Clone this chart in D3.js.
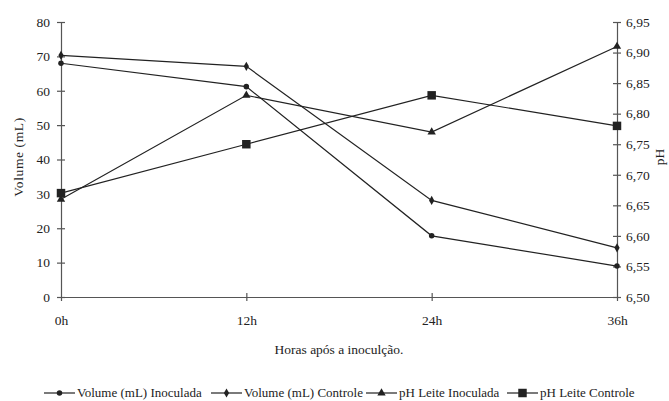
<!DOCTYPE html>
<html>
<head>
<meta charset="utf-8">
<script src="https://cdn.jsdelivr.net/npm/d3@7"></script>
<style>
  body { margin: 0; background: #fff; }
  svg text { font-family: "Liberation Serif", "Times New Roman", serif; fill: #222; }
</style>
</head>
<body>
<div id="chart"></div>
<script>
const hours = ["0h", "12h", "24h", "36h"];
const volInoculada = [68, 61.2, 17.8, 9.0];
const volControle = [70.3, 67.1, 28.1, 14.3];
const phInoculada = [6.66, 6.83, 6.77, 6.91];
const phControle = [6.67, 6.75, 6.83, 6.78];
const volTicks = [0, 10, 20, 30, 40, 50, 60, 70, 80];
const phTicks = [6.50, 6.55, 6.60, 6.65, 6.70, 6.75, 6.80, 6.85, 6.90, 6.95];

const series = [
  { name: "Volume (mL) Inoculada", values: volInoculada, axis: "vol", symbol: "circle" },
  { name: "Volume (mL) Controle", values: volControle, axis: "vol", symbol: "diamond" },
  { name: "pH Leite Inoculada", values: phInoculada, axis: "ph", symbol: "triangle" },
  { name: "pH Leite Controle", values: phControle, axis: "ph", symbol: "square" }
];

const width = 669;
const height = 401;
const ink = "#222";
const axisColor = "#555";

const svg = d3.select("#chart")
  .append("svg")
  .attr("width", width)
  .attr("height", height);

const x = d3.scalePoint().domain(hours).range([61, 617]);
const yVol = d3.scaleLinear().domain([0, 80]).range([297, 22]);
const yPh = d3.scaleLinear().domain([6.50, 6.95]).range([297, 22]);

// symbol drawing
function marker(sel, type) {
  const shapes = {
    circle: d3.symbol(d3.symbolCircle, 24),
    diamond: d3.symbol(d3.symbolDiamond, 24),
    triangle: d3.symbol(d3.symbolTriangle, 30),
    square: d3.symbol(d3.symbolSquare, 72)
  };
  sel.attr("d", shapes[type]()).attr("fill", ink);
}

// axes
const commaFmt = v => d3.format(".2f")(v).replace(".", ",");

const left = svg.append("g")
  .attr("transform", "translate(61,0)")
  .call(d3.axisLeft(yVol).tickValues(volTicks).tickSize(4).tickPadding(7));

const right = svg.append("g")
  .attr("transform", "translate(617,0)")
  .call(d3.axisRight(yPh).tickValues(phTicks).tickFormat(commaFmt).tickSize(4).tickPadding(5));

const bottom = svg.append("g")
  .attr("transform", "translate(0,297)")
  .call(d3.axisBottom(x).tickSize(4).tickPadding(14));

[left, right, bottom].forEach(g => {
  g.select(".domain").attr("stroke", axisColor).attr("stroke-width", 1.2);
  g.selectAll(".tick line").attr("stroke", axisColor).attr("stroke-width", 1.2);
  g.selectAll(".tick text")
    .attr("font-size", 13.5)
    .attr("font-family", "Liberation Serif, serif")
    .attr("fill", "#222");
});
left.selectAll(".tick line").attr("x1", 4);
right.selectAll(".tick line").attr("x1", -4);
bottom.selectAll(".tick line").attr("y1", -4);
bottom.selectAll(".tick").filter(d => d === "0h" || d === "36h").select("line").remove();

// axis titles
svg.append("text")
  .attr("transform", "translate(23,157) rotate(-90)")
  .attr("text-anchor", "middle")
  .attr("font-size", 13.5)
  .attr("letter-spacing", 0.6)
  .text("Volume (mL)");

svg.append("text")
  .attr("transform", "translate(664,157) rotate(-90)")
  .attr("text-anchor", "middle")
  .attr("font-size", 13.5)
  .text("pH");

svg.append("text")
  .attr("x", 339)
  .attr("y", 354)
  .attr("text-anchor", "middle")
  .attr("font-size", 13.5)
  .text("Horas após a inoculção.");

// lines and markers
const lineGroup = svg.append("g");
series.forEach(s => {
  const yScale = s.axis === "vol" ? yVol : yPh;
  const line = d3.line()
    .x((d, i) => x(hours[i]))
    .y(d => yScale(d));

  lineGroup.append("path")
    .datum(s.values)
    .attr("d", line)
    .attr("fill", "none")
    .attr("stroke", ink)
    .attr("stroke-width", 1.2);

  lineGroup.selectAll(null)
    .data(s.values)
    .enter()
    .append("path")
    .attr("transform", (d, i) => `translate(${x(hours[i])},${yScale(d)})`)
    .call(marker, s.symbol);
});

// legend
const legendX = [44, 211, 366, 507];
const legend = svg.append("g");
series.forEach((s, i) => {
  const g = legend.append("g").attr("transform", `translate(${legendX[i]},393)`);
  g.append("line")
    .attr("x1", 0).attr("x2", 31)
    .attr("y1", 0).attr("y2", 0)
    .attr("stroke", ink)
    .attr("stroke-width", 1.2);
  g.append("path")
    .attr("transform", "translate(15.5,0)")
    .call(marker, s.symbol);
  g.append("text")
    .attr("x", 33)
    .attr("y", 4)
    .attr("font-size", 13)
    .text(s.name);
});
</script>
</body>
</html>
